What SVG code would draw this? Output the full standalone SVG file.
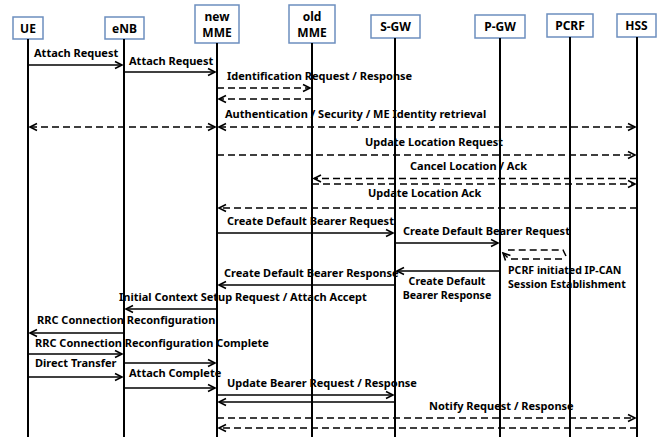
<svg xmlns="http://www.w3.org/2000/svg" width="661" height="437" viewBox="0 0 661 437">
<defs>
<marker id="ah" markerUnits="userSpaceOnUse" markerWidth="10" markerHeight="10" refX="8" refY="4" orient="auto-start-reverse" viewBox="0 0 10 8">
<path d="M1,0.5 L8,4 L1,7.5" fill="none" stroke="#000" stroke-width="1.6"/>
</marker>
</defs>
<style>
.box{fill:#fff;stroke:#6c8ebf;stroke-width:1.5}
.hd{font-family:"Noto Sans","DejaVu Sans",sans-serif;font-weight:bold;font-size:12px;fill:#000;text-anchor:middle}
.life{stroke:#000;stroke-width:2}
.m{stroke:#000;stroke-width:1.5;fill:none}
.d{stroke-dasharray:7 4}
.a{marker-end:url(#ah)}
.b{marker-start:url(#ah);marker-end:url(#ah)}
.t{font-family:"Noto Sans","DejaVu Sans",sans-serif;font-weight:bold;font-size:11px;fill:#000}
.s{font-size:10.6px}
.c{text-anchor:middle}
</style>
<rect width="661" height="437" fill="#fff"/>
<g id="UE"><rect class="box" x="13" y="17" width="30" height="22"/><text class="hd" x="28" y="33">UE</text><line class="life" x1="28" y1="39" x2="28" y2="437"/></g>
<g id="eNB"><rect class="box" x="105" y="17" width="39" height="22"/><text class="hd" x="124.5" y="33">eNB</text><line class="life" x1="124" y1="39" x2="124" y2="437"/></g>
<g id="newMME"><rect class="box" x="195" y="5" width="44" height="38"/><text class="hd" x="217" y="20.5">new</text><text class="hd" x="217" y="37">MME</text><line class="life" x1="217" y1="43" x2="217" y2="437"/></g>
<g id="oldMME"><rect class="box" x="289" y="5" width="46" height="38"/><text class="hd" x="312" y="20.5">old</text><text class="hd" x="312" y="37">MME</text><line class="life" x1="312" y1="43" x2="312" y2="437"/></g>
<g id="SGW"><rect class="box" x="371" y="15" width="49" height="23"/><text class="hd" x="395.5" y="31">S-GW</text><line class="life" x1="395" y1="38" x2="395" y2="437"/></g>
<g id="PGW"><rect class="box" x="475" y="15" width="50" height="23"/><text class="hd" x="500" y="31">P-GW</text><line class="life" x1="500" y1="38" x2="500" y2="437"/></g>
<g id="PCRF"><rect class="box" x="547" y="14" width="46" height="23"/><text class="hd" x="570" y="30">PCRF</text><line class="life" x1="570" y1="37" x2="570" y2="437"/></g>
<g id="HSS"><rect class="box" x="617" y="14" width="39" height="23"/><text class="hd" x="636.5" y="30">HSS</text><line class="life" x1="637" y1="37" x2="637" y2="437"/></g>
<g id="connectors">
<line class="m a" x1="28" y1="65" x2="122" y2="65"/>
<line class="m a" x1="124" y1="72" x2="215" y2="72"/>
<line class="m d a" x1="217" y1="88" x2="310" y2="88"/>
<line class="m d a" x1="312" y1="99" x2="219" y2="99"/>
<line class="m d b" x1="30" y1="127" x2="215" y2="127"/>
<line class="m d b" x1="219" y1="127" x2="635" y2="127"/>
<line class="m d a" x1="217" y1="155" x2="635" y2="155"/>
<line class="m d a" x1="637" y1="178.5" x2="314" y2="178.5"/>
<line class="m d a" x1="312" y1="184" x2="635" y2="184"/>
<line class="m d a" x1="637" y1="208" x2="219" y2="208"/>
<line class="m a" x1="217" y1="233" x2="393" y2="233"/>
<line class="m a" x1="395" y1="243" x2="498" y2="243"/>
<path class="m d" d="M566,256 L563,250 L508,250"/>
<path class="m d a" d="M562,259 L509,259 L503,253"/>
<line class="m a" x1="500" y1="271" x2="397" y2="271"/>
<line class="m a" x1="395" y1="285" x2="219" y2="285"/>
<line class="m a" x1="217" y1="309" x2="126" y2="309"/>
<line class="m a" x1="124" y1="333" x2="30" y2="333"/>
<line class="m a" x1="28" y1="354" x2="122" y2="354"/>
<line class="m a" x1="124" y1="363" x2="215" y2="363"/>
<line class="m a" x1="28" y1="377" x2="122" y2="377"/>
<line class="m a" x1="124" y1="388" x2="215" y2="388"/>
<line class="m a" x1="217" y1="395" x2="393" y2="395"/>
<line class="m a" x1="395" y1="402" x2="219" y2="402"/>
<line class="m d a" x1="217" y1="418" x2="635" y2="418"/>
<line class="m d a" x1="637" y1="428" x2="219" y2="428"/>
</g>
<g id="labels">
<text class="t" x="34" y="57">Attach Request</text>
<text class="t" x="129" y="65">Attach Request</text>
<text class="t" x="227" y="80">Identification Request / Response</text>
<text class="t" x="225" y="118">Authentication / Security / ME Identity retrieval</text>
<text class="t" x="365" y="146">Update Location Request</text>
<text class="t" x="410" y="170">Cancel Location / Ack</text>
<text class="t" x="368" y="197">Update Location Ack</text>
<text class="t" x="227" y="225">Create Default Bearer Request</text>
<text class="t" x="403" y="235">Create Default Bearer Request</text>
<text class="t s" x="508" y="273.5">PCRF initiated IP-CAN</text>
<text class="t s" x="508" y="287.5">Session Establishment</text>
<text class="t" x="224" y="277">Create Default Bearer Response</text>
<text class="t s c" x="447" y="284.5">Create Default</text>
<text class="t s c" x="447" y="298.5">Bearer Response</text>
<text class="t" x="119" y="301">Initial Context Setup Request / Attach Accept</text>
<text class="t" x="37" y="324">RRC Connection Reconfiguration</text>
<text class="t" x="35" y="347">RRC Connection Reconfiguration Complete</text>
<text class="t" x="35" y="367">Direct Transfer</text>
<text class="t" x="129" y="377">Attach Complete</text>
<text class="t" x="227" y="387">Update Bearer Request / Response</text>
<text class="t" x="429" y="410">Notify Request / Response</text>
</g>
</svg>
